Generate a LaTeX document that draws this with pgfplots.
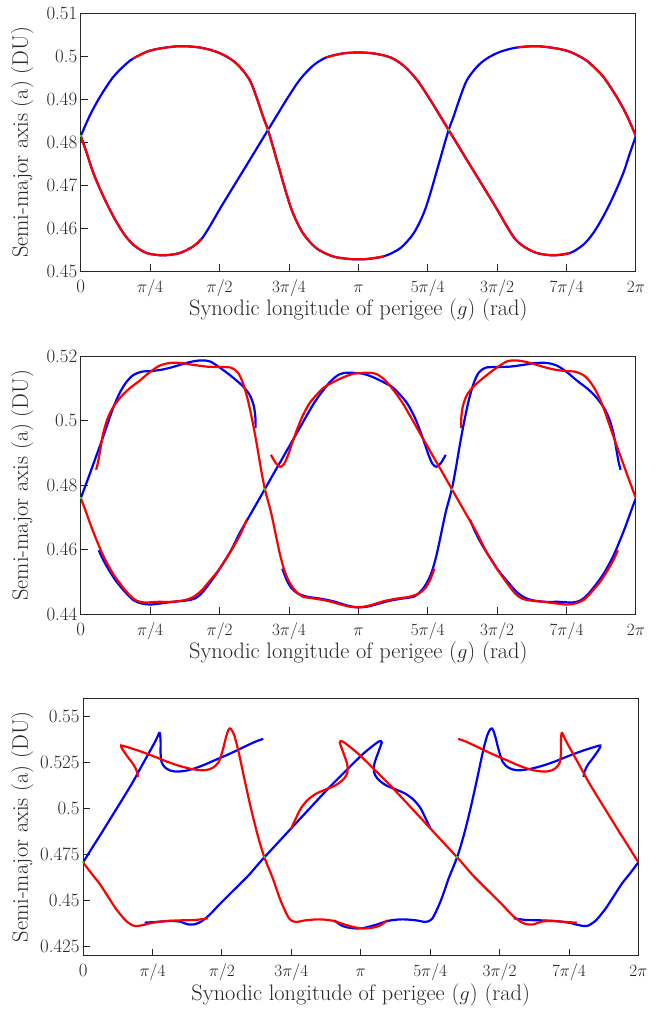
\documentclass[border=0pt]{standalone}
\usepackage{fontspec}
\usepackage{pgfplots}
\usepackage{pgfplotstable}
\pgfplotsset{compat=1.18}
\definecolor{axgray}{gray}{0.15}

% ---------------- Panel 1 ----------------
\pgfplotstableread{
g a
0 0.48151
0.105 0.48639
0.218 0.49064
0.369 0.49529
0.519 0.49839
0.595 0.49955
0.745 0.50110
0.896 0.50187
1.121 0.50241
1.347 0.50210
1.535 0.50110
1.686 0.49955
1.799 0.49761
1.912 0.49452
1.987 0.49064
2.062 0.48610
2.119 0.48290
2.175 0.47903
2.250 0.47361
2.326 0.46819
2.401 0.46355
2.514 0.45890
2.664 0.45542
2.852 0.45348
3.041 0.45286
3.142 0.45279
3.242 0.45286
3.431 0.45348
3.619 0.45542
3.769 0.45890
3.882 0.46355
3.957 0.46819
4.033 0.47361
4.108 0.47903
4.164 0.48290
4.221 0.48610
4.296 0.49064
4.371 0.49452
4.484 0.49761
4.597 0.49955
4.748 0.50110
4.936 0.50210
5.162 0.50241
5.387 0.50187
5.538 0.50110
5.688 0.49955
5.764 0.49839
5.914 0.49529
6.065 0.49064
6.178 0.48639
6.283 0.48151
}\Xone

\pgfplotstableread{
g a
0 0.48151
0.068 0.47748
0.143 0.47284
0.256 0.46742
0.369 0.46277
0.482 0.45890
0.595 0.45619
0.745 0.45426
0.933 0.45372
1.121 0.45426
1.272 0.45581
1.366 0.45751
1.460 0.46045
1.573 0.46448
1.724 0.46959
1.874 0.47462
2.025 0.47973
2.119 0.48290
2.213 0.48607
2.326 0.48987
2.476 0.49452
2.627 0.49784
2.777 0.49978
2.965 0.50071
3.142 0.50094
3.318 0.50071
3.506 0.49978
3.656 0.49784
3.807 0.49452
3.957 0.48987
4.070 0.48607
4.164 0.48290
4.258 0.47973
4.409 0.47462
4.559 0.46959
4.710 0.46448
4.823 0.46045
4.917 0.45751
5.011 0.45581
5.162 0.45426
5.350 0.45372
5.538 0.45426
5.688 0.45619
5.801 0.45890
5.914 0.46277
6.027 0.46742
6.140 0.47284
6.215 0.47748
6.283 0.48151
}\Yone

% ---------------- Panel 2 ----------------
\pgfplotstableread{
g a
0 0.47602
0.068 0.48098
0.143 0.48666
0.218 0.49233
0.294 0.49832
0.369 0.50421
0.444 0.50885
0.519 0.51215
0.595 0.51422
0.689 0.51525
0.802 0.51546
0.914 0.51587
1.027 0.51659
1.140 0.51752
1.253 0.51835
1.366 0.51876
1.460 0.51845
1.554 0.51690
1.648 0.51504
1.742 0.51298
1.836 0.51071
1.912 0.50803
1.957 0.50472
1.976 0.50111
1.979 0.49770
}\Ptwo

\pgfplotstableread{
g a
0.203 0.45982
0.256 0.45672
0.331 0.45311
0.406 0.45001
0.501 0.44691
0.595 0.44433
0.689 0.44330
0.783 0.44299
0.896 0.44330
1.046 0.44382
1.197 0.44423
1.291 0.44485
1.366 0.44640
1.441 0.44898
1.517 0.45187
1.611 0.45569
1.705 0.46002
1.799 0.46519
1.893 0.46968
1.987 0.47417
2.081 0.47871
2.175 0.48325
2.269 0.48774
2.363 0.49223
2.457 0.49677
2.551 0.50132
2.646 0.50575
2.740 0.50937
2.834 0.51246
2.928 0.51443
3.022 0.51494
3.191 0.51463
3.303 0.51360
3.416 0.51215
3.529 0.51040
3.623 0.50782
3.699 0.50524
3.774 0.50142
3.830 0.49770
3.887 0.49337
3.936 0.48944
3.981 0.48666
4.026 0.48573
4.075 0.48686
4.131 0.48944
}\Qtwo

\pgfplotstableread{
g a
2.281 0.45414
2.326 0.45084
2.382 0.44815
2.457 0.44640
2.570 0.44536
2.702 0.44485
2.853 0.44402
3.003 0.44278
3.116 0.44216
3.228 0.44227
3.341 0.44299
3.492 0.44413
3.642 0.44485
3.774 0.44547
3.849 0.44712
3.913 0.44949
3.973 0.45311
4.026 0.45827
4.075 0.46446
4.131 0.47169
4.199 0.47871
4.244 0.48511
4.289 0.49233
4.338 0.49956
4.395 0.50679
4.451 0.51195
4.507 0.51504
4.583 0.51649
4.696 0.51670
4.846 0.51680
4.997 0.51732
5.147 0.51794
5.279 0.51794
5.392 0.51711
5.505 0.51504
5.617 0.51246
5.730 0.51009
5.824 0.50761
5.918 0.50421
5.982 0.50059
6.031 0.49595
6.061 0.49130
6.088 0.48717
6.110 0.48480
}\Rtwo

\pgfplotstableread{
g a
4.406 0.46931
4.451 0.46632
4.507 0.46322
4.583 0.45961
4.658 0.45641
4.733 0.45331
4.827 0.45022
4.921 0.44722
5.015 0.44526
5.109 0.44433
5.260 0.44382
5.411 0.44382
5.561 0.44361
5.655 0.44423
5.731 0.44588
5.825 0.44898
5.919 0.45259
6.013 0.45724
6.088 0.46188
6.163 0.46704
6.231 0.47221
6.283 0.47602
}\Stwo

% ---------------- Panel 3 ----------------
\pgfplotstableread{
g a
0 0.4707
0.113 0.4794
0.226 0.4880
0.339 0.4968
0.451 0.5055
0.564 0.5145
0.677 0.5244
0.771 0.5325
0.828 0.5376
0.854 0.5404
0.869 0.5410
0.877 0.5361
0.877 0.5298
0.888 0.5253
0.922 0.5226
0.978 0.5208
1.053 0.5201
1.166 0.5206
1.279 0.5221
1.392 0.5242
1.505 0.5266
1.618 0.5289
1.731 0.5314
1.843 0.5340
1.956 0.5365
2.039 0.5379
}\Pthree

\pgfplotstableread{
g a
0.696 0.4379
0.828 0.4383
0.978 0.4388
1.091 0.4385
1.185 0.4370
1.260 0.4370
1.336 0.4385
1.430 0.4421
1.542 0.4478
1.655 0.4532
1.768 0.4586
1.881 0.4641
1.994 0.4704
2.054 0.4736
2.370 0.4900
2.747 0.5095
2.972 0.5205
3.161 0.5294
3.273 0.5339
3.349 0.5365
3.379 0.5360
3.341 0.5307
3.296 0.5244
3.292 0.5199
3.330 0.5163
3.424 0.5127
3.537 0.5104
3.649 0.5080
3.743 0.5046
3.819 0.5001
3.875 0.4947
3.932 0.4889
}\Qthree

\pgfplotstableread{
g a
2.840 0.4392
2.935 0.4361
3.048 0.4349
3.161 0.4349
3.311 0.4367
3.462 0.4390
3.612 0.4397
3.763 0.4392
3.876 0.4383
3.943 0.4397
3.996 0.4442
4.060 0.4514
4.139 0.4623
4.233 0.4736
4.309 0.4857
4.384 0.5001
4.459 0.5163
4.523 0.5307
4.572 0.5397
4.610 0.5433
4.636 0.5430
4.666 0.5388
4.704 0.5316
4.749 0.5253
4.817 0.5221
4.911 0.5208
5.043 0.5214
5.193 0.5232
5.344 0.5257
5.494 0.5286
5.645 0.5313
5.795 0.5336
5.852 0.5343
5.841 0.5325
5.777 0.5280
5.713 0.5239
5.675 0.5203
5.664 0.5172
}\Rthree

\pgfplotstableread{
g a
4.872 0.4403
5.004 0.4394
5.155 0.4392
5.343 0.4388
5.494 0.4379
5.607 0.4366
5.701 0.4361
5.795 0.4388
5.907 0.4452
6.000 0.4520
6.095 0.4590
6.190 0.4648
6.283 0.4707
}\Sthree

\pgfplotsset{
  panel/.style={
    scale only axis, anchor=south west,
    xmin=0, xmax=6.283185,
    xtick={0,0.785398,1.570796,2.356194,3.141593,3.926991,4.712389,5.497787,6.283185},
    xticklabels={0,$\pi/4$,$\pi/2$,$3\pi/4$,$\pi$,$5\pi/4$,$3\pi/2$,$7\pi/4$,$2\pi$},
    tick align=inside, xtick pos=left, ytick pos=left,
    major tick length=7bp,
    axis line style={axgray, line width=0.9bp},
    every tick/.append style={axgray, line width=0.9bp},
    tick label style={font=\fontsize{19}{22}\selectfont, text=axgray},
    xticklabel style={anchor=base, yshift=-21bp},
    label style={font=\fontsize{22.5}{26}\selectfont, text=axgray},
    xlabel={Synodic longitude of perigee ($g$) (rad)},
    ylabel={Semi-major axis (a) (DU)},
    xlabel style={at={(axis description cs:0.5,-0.173)}, anchor=base},
    scaled y ticks=false,
  },
  crv/.style={line width=2.2bp, smooth, no markers},
  dots/.style={only marks, mark=*, mark size=0.9bp, color=green},
}

\begin{document}
\begin{tikzpicture}
\path (0,0) rectangle (661bp,1009bp);

% ---------- Panel 1 ----------
\begin{axis}[panel, at={(81bp,737bp)}, width=556.5bp, height=258.4bp,
  ymin=0.45, ymax=0.51,
  ytick={0.45,0.46,0.47,0.48,0.49,0.5,0.51},
  yticklabels={0.45,0.46,0.47,0.48,0.49,0.5,0.51},
  ylabel style={at={(axis description cs:-0.0952,0.5)}, anchor=base}]
\addplot[crv, blue] table {\Xone};
\addplot[crv, blue] table {\Yone};
\addplot[crv, red, restrict x to domain=0.59:3.46] table {\Xone};
\addplot[crv, red, restrict x to domain=4.80:6.30] table {\Xone};
\addplot[crv, red, restrict x to domain=-0.1:1.37] table {\Yone};
\addplot[crv, red, restrict x to domain=2.74:5.54] table {\Yone};
\addplot[dots] coordinates {(0,0.48151) (2.119,0.4829) (4.164,0.4829)};
\end{axis}

% ---------- Panel 2 ----------
\begin{axis}[panel, at={(81bp,393.3bp)}, width=556.5bp, height=258.4bp,
  ymin=0.44, ymax=0.52,
  ytick={0.44,0.46,0.48,0.5,0.52},
  yticklabels={0.44,0.46,0.48,0.5,0.52},
  ylabel style={at={(axis description cs:-0.0952,0.5)}, anchor=base}]
\addplot[crv, blue] table {\Ptwo};
\addplot[crv, blue] table {\Qtwo};
\addplot[crv, blue] table {\Rtwo};
\addplot[crv, blue] table {\Stwo};
\addplot[crv, red] table[x expr=6.283185-\thisrowno{0}, y index=1] {\Ptwo};
\addplot[crv, red] table[x expr=6.283185-\thisrowno{0}, y index=1] {\Qtwo};
\addplot[crv, red] table[x expr=6.283185-\thisrowno{0}, y index=1] {\Rtwo};
\addplot[crv, red] table[x expr=6.283185-\thisrowno{0}, y index=1] {\Stwo};
\addplot[dots] coordinates {(0,0.47602) (2.081,0.47871) (4.202,0.47871)};
\end{axis}

% ---------- Panel 3 ----------
\begin{axis}[panel, at={(83.3bp,51bp)}, width=556.7bp, height=258bp,
  ymin=0.42, ymax=0.56,
  ytick={0.425,0.45,0.475,0.5,0.525,0.55},
  yticklabels={0.425,0.45,0.475,0.5,0.525,0.55},
  ylabel style={at={(axis description cs:-0.0993,0.5)}, anchor=base}]
\addplot[crv, blue] table {\Pthree};
\addplot[crv, blue] table {\Qthree};
\addplot[crv, blue] table {\Rthree};
\addplot[crv, blue] table {\Sthree};
\addplot[crv, red] table[x expr=6.283185-\thisrowno{0}, y index=1] {\Pthree};
\addplot[crv, red] table[x expr=6.283185-\thisrowno{0}, y index=1] {\Qthree};
\addplot[crv, red] table[x expr=6.283185-\thisrowno{0}, y index=1] {\Rthree};
\addplot[crv, red] table[x expr=6.283185-\thisrowno{0}, y index=1] {\Sthree};
\addplot[dots] coordinates {(0,0.4707) (2.054,0.4736) (4.229,0.4736)};
\end{axis}
\end{tikzpicture}
\end{document}
